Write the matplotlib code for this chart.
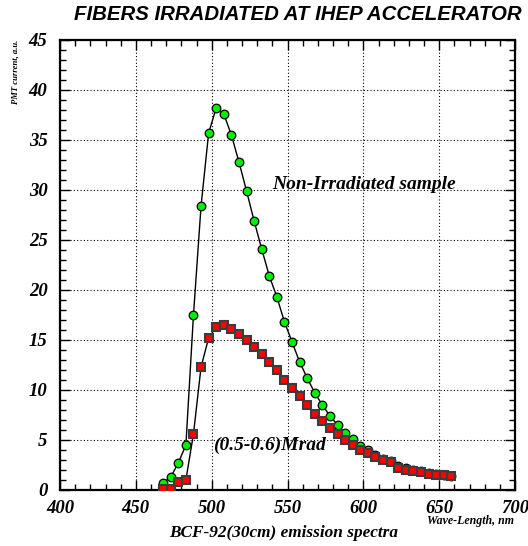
import matplotlib
matplotlib.use("Agg")
import matplotlib.pyplot as plt
from matplotlib.ticker import MultipleLocator

# wavelength points, nm
wavelength = [468, 473, 478, 483, 488, 493, 498, 503, 508, 513,
              518, 523, 528, 533, 538, 543, 548, 553, 558, 563,
              568, 573, 578, 583, 588, 593, 598, 603, 608, 613,
              618, 623, 628, 633, 638, 643, 648, 653, 658]

# non-irradiated sample, PMT current a.u.
non_irradiated = [0.7, 1.3, 2.7, 4.5, 17.5, 28.4, 35.7, 38.2, 37.6, 35.5,
                  32.8, 29.9, 26.9, 24.1, 21.4, 19.3, 16.8, 14.8, 12.8, 11.2,
                  9.7, 8.5, 7.4, 6.5, 5.7, 5.1, 4.4, 4.0, 3.5, 3.1,
                  2.9, 2.4, 2.2, 2.0, 1.9, 1.7, 1.6, 1.5, 1.4]

# irradiated (0.5-0.6) Mrad
irradiated = [0.1, 0.1, 0.8, 1.0, 5.6, 12.3, 15.2, 16.3, 16.5, 16.1,
              15.6, 15.0, 14.3, 13.6, 12.8, 12.0, 11.0, 10.2, 9.4, 8.5,
              7.6, 6.9, 6.2, 5.6, 5.0, 4.5, 4.0, 3.7, 3.3, 3.0,
              2.8, 2.2, 2.0, 1.9, 1.8, 1.6, 1.5, 1.5, 1.4]

SERIF = "Liberation Serif"
SANS = "Liberation Sans"

fig = plt.figure(figsize=(5.28, 5.46), dpi=100)
ax = fig.add_axes([60/528, 1 - 490/546, 455/528, 450/546])

ax.plot(wavelength, non_irradiated, color="black", lw=1.0, marker="o",
        ms=6.2, mfc="#00ee00", mec="black", mew=0.9, zorder=3)
ax.plot(wavelength, irradiated, color="black", lw=1.0, marker="s",
        ms=6.4, mfc="#ff0000", mec="#3c3c3c", mew=1.5, zorder=4)

ax.set_xlim(400, 700)
ax.set_ylim(0, 45)
ax.xaxis.set_major_locator(MultipleLocator(50))
ax.xaxis.set_minor_locator(MultipleLocator(10))
ax.yaxis.set_major_locator(MultipleLocator(5))
ax.yaxis.set_minor_locator(MultipleLocator(1))
ax.grid(True, which="major", color="black", ls=(0, (1, 2)), lw=0.8)

ax.tick_params(which="both", direction="in", top=True, right=True)
ax.tick_params(which="major", length=7, width=1.0)
ax.tick_params(which="minor", length=4, width=1.0)
ax.tick_params(axis="x", pad=7)
ax.tick_params(axis="y", pad=9)
for sp in ax.spines.values():
    sp.set_linewidth(1.6)

for lab in ax.get_xticklabels() + ax.get_yticklabels():
    lab.set_fontfamily(SERIF)
    lab.set_fontweight("bold")
    lab.set_fontstyle("italic")
    lab.set_fontsize(13.5)

ax.text(540, 30.1, "Non-Irradiated sample", family=SERIF, weight="bold",
        style="italic", fontsize=14, ha="left", va="baseline", zorder=5)
ax.text(500.7, 4.0, "(0.5-0.6)Mrad", family=SERIF, weight="bold",
        style="italic", fontsize=14, ha="left", va="baseline", zorder=5)

fig.text(298/528, 1 - 14/546, "FIBERS IRRADIATED AT IHEP ACCELERATOR",
         family=SANS, weight="bold", style="italic", fontsize=14.7,
         ha="center", va="center")
fig.text(284/528, 1 - 533/546, "BCF-92(30cm) emission spectra",
         family=SERIF, weight="bold", style="italic", fontsize=12.4,
         ha="center", va="center")
fig.text(514/528, 1 - 521/546, "Wave-Length, nm", family=SERIF,
         weight="bold", style="italic", fontsize=8.6, ha="right", va="center")
fig.text(15/528, 1 - 40/546, "PMT current, a.u.", family=SERIF,
         weight="bold", style="italic", fontsize=6.2, rotation=90,
         ha="center", va="top")

fig.savefig("out.png", dpi=100)
